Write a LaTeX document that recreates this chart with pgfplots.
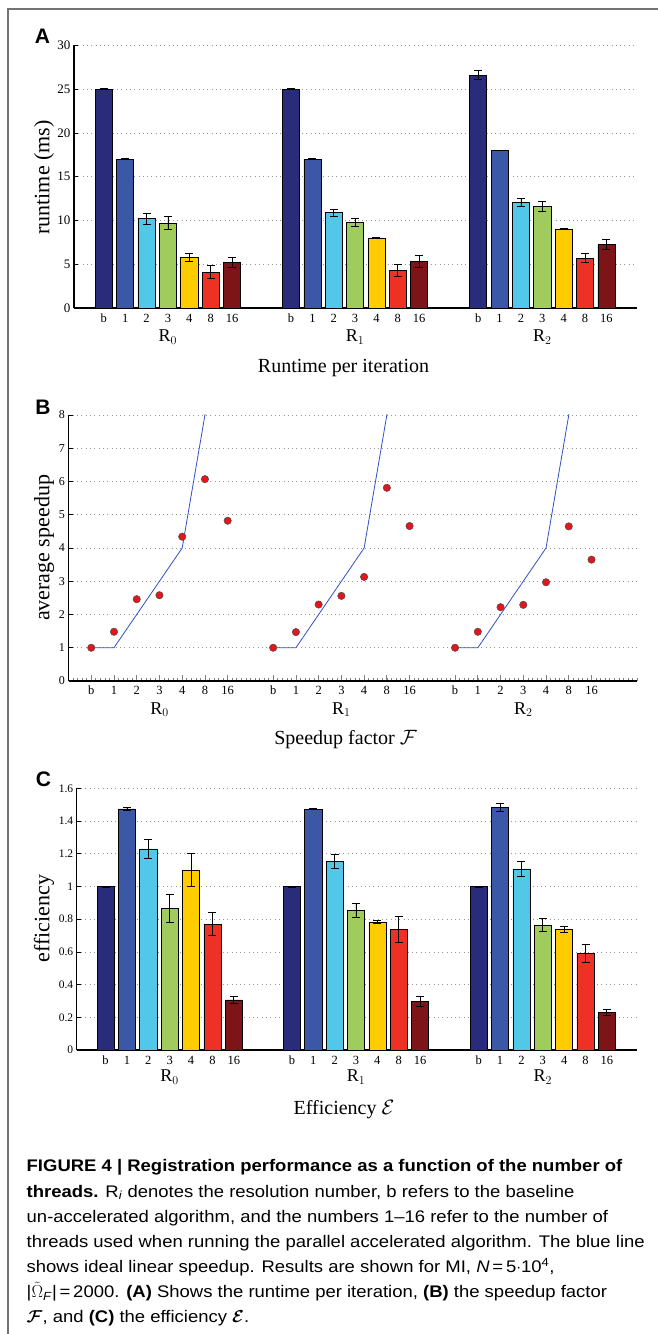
\documentclass[border=0pt]{standalone}
\usepackage{fontspec}
\setmainfont{Liberation Serif}
\newfontfamily\capfont[FakeStretch=1.1]{Liberation Sans}
\newfontfamily\panelfont{Liberation Sans}
\usepackage{pgfplots}
\pgfplotsset{compat=1.18}
\usepackage{bm}

\definecolor{cb}{RGB}{40,44,122}
\definecolor{c1}{RGB}{58,88,166}
\definecolor{c2}{RGB}{82,200,232}
\definecolor{c3}{RGB}{160,204,94}
\definecolor{c4}{RGB}{255,204,0}
\definecolor{c8}{RGB}{237,49,36}
\definecolor{c16}{RGB}{124,20,24}
\definecolor{gridc}{RGB}{150,150,150}
\definecolor{lineblue}{RGB}{48,80,200}
\definecolor{ptred}{RGB}{228,22,28}

\pgfplotsset{
  panel/.style={
    scale only axis,
    axis x line*=bottom, axis y line*=left,
    axis line style={black, line width=1.1pt},
    ymajorgrids,
    grid style={gridc, line width=0.7pt, dash pattern=on 0.8pt off 3.5pt},
    clip mode=individual,
    /pgf/number format/assume math mode=true,
    tick align=inside,
    major tick length=4pt,
    ytick style={black, line width=0.7pt},
  },
  mybar/.style={ybar, bar width=0.8, bar shift=0pt, draw=black, line width=0.6pt, fill=#1,
    error bars/y dir=both, error bars/y explicit,
    error bars/error bar style={black, line width=0.8pt},
    error bars/error mark options={rotate=90, mark size=4pt, black, line width=0.8pt}},
}

\newcommand{\catlabels}{b,1,2,3,4,8,16,b,1,2,3,4,8,16,b,1,2,3,4,8,16}

\begin{document}
\begin{tikzpicture}[x=1pt,y=1pt]
\useasboundingbox (0,0) rectangle (657,1334);
\draw[black!55, line width=1.6pt] (8,-5) -- (8,1325) -- (680,1325);

% ---------- Panel A ----------
\node[font=\panelfont\bfseries\fontsize{21}{22}\selectfont, inner sep=0pt] at (42.5,1297.7) {A};
\begin{axis}[panel,
  at={(74pt,1026pt)}, anchor=south west,
  width=563pt, height=262.7pt,
  xmin=-1.394, xmax=24.95, ymin=0, ymax=30,
  ytick={0,5,10,15,20,25,30},
  yticklabel style={font=\fontsize{13}{13}\selectfont},
  xtick={0,1,2,3,4,5,6,8.76,9.76,10.76,11.76,12.76,13.76,14.76,17.52,18.52,19.52,20.52,21.52,22.52,23.52},
  xticklabels/.expanded={\catlabels},
  xtick style={draw=none},
  xticklabel style={font=\fontsize{12.5}{13}\selectfont, anchor=base, yshift=-14.7pt},
]
\addplot[mybar=cb] coordinates {(0,25.0) +- (0,0.05) (8.76,25.0) +- (0,0.05) (17.52,26.6) +- (0,0.5)};
\addplot[mybar=c1] coordinates {(1,17.0) +- (0,0.08) (9.76,17.0) +- (0,0.05) (18.52,18.0) +- (0,0.05)};
\addplot[mybar=c2] coordinates {(2,10.2) +- (0,0.6) (10.76,10.9) +- (0,0.4) (19.52,12.05) +- (0,0.5)};
\addplot[mybar=c3] coordinates {(3,9.7) +- (0,0.75) (11.76,9.8) +- (0,0.45) (20.52,11.6) +- (0,0.55)};
\addplot[mybar=c4] coordinates {(4,5.8) +- (0,0.48) (12.76,8.0) +- (0,0.05) (21.52,9.0) +- (0,0.05)};
\addplot[mybar=c8] coordinates {(5,4.1) +- (0,0.75) (13.76,4.3) +- (0,0.68) (22.52,5.7) +- (0,0.55)};
\addplot[mybar=c16] coordinates {(6,5.2) +- (0,0.55) (14.76,5.36) +- (0,0.68) (23.52,7.27) +- (0,0.55)};
\node[anchor=base, yshift=-33.7pt, font=\fontsize{18}{18}\selectfont] at (axis cs:3,0) {R\(_0\)};
\node[anchor=base, yshift=-33.7pt, font=\fontsize{18}{18}\selectfont] at (axis cs:11.76,0) {R\(_1\)};
\node[anchor=base, yshift=-33.7pt, font=\fontsize{18}{18}\selectfont] at (axis cs:20.52,0) {R\(_2\)};
\end{axis}
\node[rotate=90, font=\fontsize{22}{22}\selectfont] at (44,1156.5) {runtime (ms)};
\node[anchor=base, font=\fontsize{20}{20}\selectfont] at (343.5,961.3) {Runtime per iteration};

% ---------- Panel B ----------
\node[font=\panelfont\bfseries\fontsize{21}{22}\selectfont, inner sep=0pt] at (43,927) {B};
\begin{axis}[panel,
  at={(68.5pt,653pt)}, anchor=south west,
  width=568.5pt, height=266pt,
  xmin=-1, xmax=24, ymin=0, ymax=8,
  ytick={0,1,2,3,4,5,6,7,8},
  yticklabel style={font=\fontsize{12}{12}\selectfont},
  xtick={0,1,2,3,4,5,6,8,9,10,11,12,13,14,16,17,18,19,20,21,22},
  xticklabels/.expanded={\catlabels},
  xtick style={black!50, line width=0.8pt, /pgfplots/major tick length=6pt},
  minor xtick={-1,-0.8,...,24},
  minor tick length=2.5pt,
  minor x tick style={black!50, line width=0.6pt},
  xticklabel style={font=\fontsize{12.5}{13}\selectfont, anchor=base, yshift=-13.7pt},
]
\addplot[lineblue, line width=0.8pt] coordinates {(0,1) (1,1) (2,2) (3,3) (4,4) (5,8) (6,16)};
\addplot[lineblue, line width=0.8pt] coordinates {(8,1) (9,1) (10,2) (11,3) (12,4) (13,8) (14,16)};
\addplot[lineblue, line width=0.8pt] coordinates {(16,1) (17,1) (18,2) (19,3) (20,4) (21,8) (22,16)};
\addplot[only marks, mark=*, mark size=3.7pt, mark options={fill=ptred, draw=black!70, line width=0.5pt}]
  coordinates {(0,1.0) (1,1.48) (2,2.46) (3,2.58) (4,4.34) (5,6.07) (6,4.82)
               (8,1.0) (9,1.47) (10,2.30) (11,2.56) (12,3.13) (13,5.81) (14,4.66)
               (16,1.0) (17,1.48) (18,2.22) (19,2.29) (20,2.97) (21,4.65) (22,3.65)};
\node[anchor=base, yshift=-33.3pt, font=\fontsize{18}{18}\selectfont] at (axis cs:3,0) {R\(_0\)};
\node[anchor=base, yshift=-33.3pt, font=\fontsize{18}{18}\selectfont] at (axis cs:11,0) {R\(_1\)};
\node[anchor=base, yshift=-33.3pt, font=\fontsize{18}{18}\selectfont] at (axis cs:19,0) {R\(_2\)};
\end{axis}
\node[rotate=90, font=\fontsize{22}{22}\selectfont] at (44,786) {average speedup};
\node[anchor=base, font=\fontsize{20}{20}\selectfont] at (345.6,589) {Speedup factor \(\mathcal{F}\)};

% ---------- Panel C ----------
\node[font=\panelfont\bfseries\fontsize{21}{22}\selectfont, inner sep=0pt] at (43.5,555) {C};
\begin{axis}[panel,
  at={(76.7pt,284pt)}, anchor=south west,
  width=560.3pt, height=261.7pt,
  xmin=-1.35, xmax=24.87, ymin=0, ymax=1.6,
  ytick={0,0.2,0.4,0.6,0.8,1,1.2,1.4,1.6},
  yticklabels={0,0.2,0.4,0.6,0.8,1,1.2,1.4,1.6},
  yticklabel style={font=\fontsize{11.5}{12}\selectfont},
  xtick={0,1,2,3,4,5,6,8.72,9.72,10.72,11.72,12.72,13.72,14.72,17.46,18.46,19.46,20.46,21.46,22.46,23.46},
  xticklabels/.expanded={\catlabels},
  xtick style={draw=none},
  xticklabel style={font=\fontsize{12.5}{13}\selectfont, anchor=base, yshift=-15pt},
]
\addplot[mybar=cb] coordinates {(0,1.0) +- (0,0.003) (8.72,1.0) +- (0,0.003) (17.46,1.0) +- (0,0.003)};
\addplot[mybar=c1] coordinates {(1,1.474) +- (0,0.01) (9.72,1.472) +- (0,0.004) (18.46,1.482) +- (0,0.026)};
\addplot[mybar=c2] coordinates {(2,1.229) +- (0,0.056) (10.72,1.152) +- (0,0.043) (19.46,1.107) +- (0,0.047)};
\addplot[mybar=c3] coordinates {(3,0.866) +- (0,0.083) (11.72,0.854) +- (0,0.043) (20.46,0.764) +- (0,0.039)};
\addplot[mybar=c4] coordinates {(4,1.099) +- (0,0.10) (12.72,0.783) +- (0,0.007) (21.46,0.738) +- (0,0.016)};
\addplot[mybar=c8] coordinates {(5,0.77) +- (0,0.07) (13.72,0.738) +- (0,0.08) (22.46,0.591) +- (0,0.056)};
\addplot[mybar=c16] coordinates {(6,0.306) +- (0,0.023) (14.72,0.298) +- (0,0.03) (23.46,0.228) +- (0,0.018)};
\node[anchor=base, yshift=-31.7pt, font=\fontsize{18}{18}\selectfont] at (axis cs:3,0) {R\(_0\)};
\node[anchor=base, yshift=-31.7pt, font=\fontsize{18}{18}\selectfont] at (axis cs:11.72,0) {R\(_1\)};
\node[anchor=base, yshift=-31.7pt, font=\fontsize{18}{18}\selectfont] at (axis cs:20.46,0) {R\(_2\)};
\end{axis}
\node[rotate=90, font=\fontsize{22}{22}\selectfont] at (44,415.3) {efficiency};
\node[anchor=base, font=\fontsize{20}{20}\selectfont] at (344,219.7) {Efficiency \(\mathcal{E}\)};

% ---------- Caption ----------
\begin{scope}[every node/.style={anchor=base west, inner sep=0pt, font=\capfont\fontsize{16.8}{20}\selectfont}]
\node at (26.5,162) {\textbf{FIGURE 4 | Registration performance as a function of the number of}};
\node at (26.5,136.9) {\textbf{threads.} R\textsubscript{\textit{i}} denotes the resolution number, b refers to the baseline};
\node at (26.5,111.8) {un-accelerated algorithm, and the numbers 1–16 refer to the number of};
\node at (26.5,86.7) {threads used when running the parallel accelerated algorithm. The blue line};
\node at (26.5,61.6) {shows ideal linear speedup. Results are shown for MI, \textit{N}\,=\,5\(\cdot\)10\textsuperscript{4},};
\node at (26.5,36.5) {|\(\tilde{\Omega}\)\textsubscript{\textit{F}}|\,=\,2000. \textbf{(A)} Shows the runtime per iteration, \textbf{(B)} the speedup factor};
\node at (26.5,11.4) {\(\bm{\mathcal{F}}\), and \textbf{(C)} the efficiency \(\bm{\mathcal{E}}\).};
\end{scope}
\end{tikzpicture}
\end{document}
